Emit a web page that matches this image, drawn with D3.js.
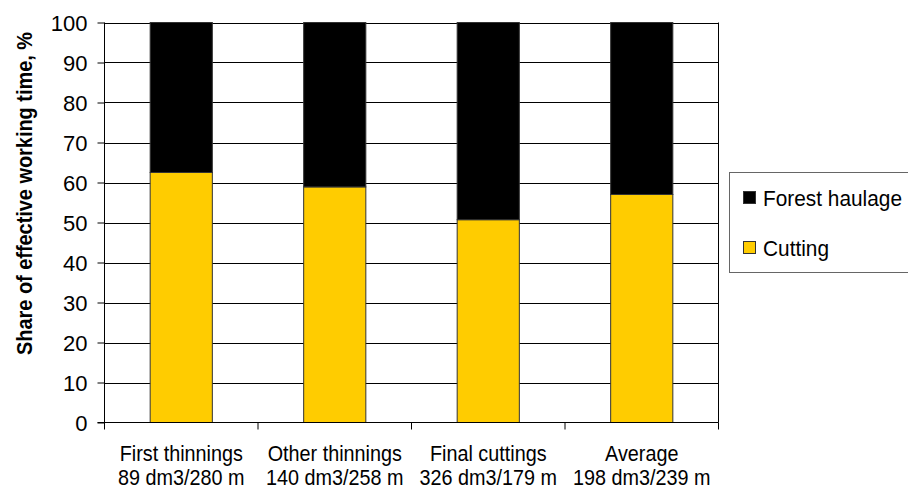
<!DOCTYPE html>
<html>
<head>
<meta charset="utf-8">
<script src="https://cdn.jsdelivr.net/npm/d3@7"></script>
<style>
html, body { margin: 0; padding: 0; background: #fff; }
svg { display: block; font-family: "Liberation Sans", Arial, sans-serif; }
</style>
</head>
<body>
<svg id="chart" width="908" height="488"></svg>
<script>
const categories = ["First thinnings", "Other thinnings", "Final cuttings", "Average"];
const subLabels = ["89 dm3/280 m", "140 dm3/258 m", "326 dm3/179 m", "198 dm3/239 m"];
const cutting = [62.5, 58.9, 50.7, 57.0];
const haulage = [37.5, 41.1, 49.3, 43.0];
const seriesNames = ["Forest haulage", "Cutting"];
const seriesColors = ["#000000", "#FFCC00"];
const yTicks = [0, 10, 20, 30, 40, 50, 60, 70, 80, 90, 100];

const svg = d3.select("#chart");
const m = { left: 104.5, right: 718.5, top: 22.5, bottom: 422.5 };

const x = d3.scaleBand().domain(categories).range([m.left, m.right]).paddingInner(0.595).paddingOuter(0.2975);
const xOuter = d3.scaleBand().domain(categories).range([m.left, m.right]);
const y = d3.scaleLinear().domain([0, 100]).range([m.bottom, m.top]);

// gridlines
svg.append("g").selectAll("line").data(yTicks.filter(d => d > 0)).join("line")
  .attr("x1", m.left).attr("x2", m.right)
  .attr("y1", d => Math.round(y(d)) + 0.5).attr("y2", d => Math.round(y(d)) + 0.5)
  .attr("stroke", "#000").attr("stroke-width", 1);

// right border
svg.append("line").attr("x1", m.right).attr("x2", m.right).attr("y1", y(100)).attr("y2", y(0))
  .attr("stroke", "#000");

// stacked bars
const data = categories.map((c, i) => ({ cat: c, cutting: cutting[i], haulage: haulage[i] }));
const stack = d3.stack().keys(["cutting", "haulage"])(data);
const colorFor = { cutting: "#FFCC00", haulage: "#000000" };
svg.append("g").selectAll("g").data(stack).join("g")
  .attr("fill", d => colorFor[d.key])
  .selectAll("rect").data(d => d).join("rect")
  .attr("x", d => x(d.data.cat))
  .attr("width", x.bandwidth())
  .attr("y", d => y(d[1]))
  .attr("height", d => y(d[0]) - y(d[1]))
  .attr("stroke", "#333").attr("stroke-width", 1);

// y axis
const yAxis = d3.axisLeft(y).tickValues(yTicks).tickSize(7).tickPadding(10).tickFormat(d3.format("d"));
const gy = svg.append("g").attr("transform", `translate(${m.left},0)`).call(yAxis);
gy.select(".domain").attr("stroke", "#000").attr("d", `M0,${m.top}V${m.bottom}`);
gy.selectAll(".tick line").attr("stroke", "#000");
gy.selectAll(".tick text").attr("font-size", 22).attr("fill", "#000")
  .attr("font-family", "Liberation Sans, Arial, sans-serif").attr("dy", "0.36em");

// x axis
const xAxis = d3.axisBottom(xOuter).tickSize(7).tickFormat("");
const gx = svg.append("g").attr("transform", `translate(0,${m.bottom})`).call(xAxis);
gx.select(".domain").attr("d", `M${m.left - 7},0H${m.right}`).attr("stroke", "#000");
gx.selectAll(".tick").remove();
const bounds = [m.left].concat(categories.map(c => xOuter(c) + xOuter.bandwidth()));
gx.selectAll("line.sep").data(bounds).join("line").attr("class", "sep")
  .attr("x1", d => d).attr("x2", d => d).attr("y1", 0).attr("y2", 7).attr("stroke", "#000");

const SX = 0.9;
const lab = svg.append("g").attr("font-size", 22).attr("fill", "#000").attr("text-anchor", "middle");
categories.forEach((c, i) => {
  const cx = xOuter(c) + xOuter.bandwidth() / 2;
  lab.append("text").attr("transform", `translate(${cx},461) scale(${SX},1)`).text(c);
  lab.append("text").attr("transform", `translate(${cx},485) scale(${SX},1)`).text(subLabels[i]);
});

// y title
svg.append("text")
  .attr("transform", "translate(32,193.5) rotate(-90) scale(0.905,1)")
  .attr("text-anchor", "middle").attr("font-size", 22).attr("font-weight", "bold")
  .text("Share of effective working time, %");

// legend
const lg = svg.append("g");
lg.append("rect").attr("x", 729.5).attr("y", 172.5).attr("width", 200).attr("height", 100)
  .attr("fill", "#fff").attr("stroke", "#666").attr("stroke-width", 1);
const legendY = [198, 248];
seriesNames.forEach((s, i) => {
  lg.append("rect").attr("x", 743.5).attr("y", legendY[i] - 6.5).attr("width", 12).attr("height", 12)
    .attr("fill", seriesColors[i]).attr("stroke", "#333");
  lg.append("text").attr("transform", `translate(763,${legendY[i] + 8}) scale(0.97,1)`)
    .attr("font-size", 21.5).text(s);
});
</script>
</body>
</html>
